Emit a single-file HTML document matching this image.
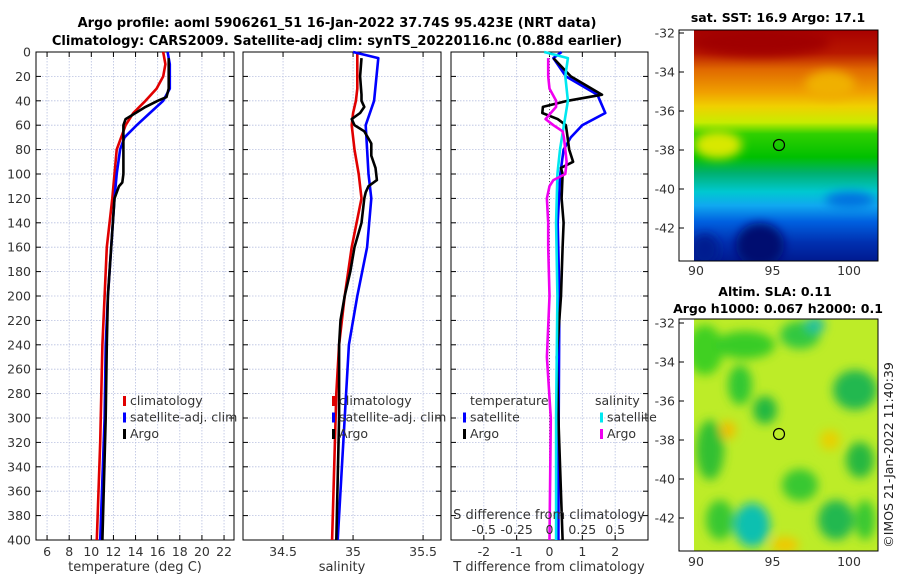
<!DOCTYPE html>
<html><head><meta charset="utf-8"><style>
body{margin:0;background:#fff;width:900px;height:580px;overflow:hidden}
svg{font-family:"DejaVu Sans","Liberation Sans",sans-serif;}
</style></head><body>
<svg id="c" width="900" height="580" xmlns="http://www.w3.org/2000/svg">
<defs>
<linearGradient id="sstg" x1="0" y1="0" x2="0" y2="1">
<stop offset="0" stop-color="#a80000"/><stop offset="0.1" stop-color="#b81800"/>
<stop offset="0.17" stop-color="#e06800"/><stop offset="0.27" stop-color="#f0a000"/>
<stop offset="0.33" stop-color="#f0d000"/><stop offset="0.4" stop-color="#c8ec00"/>
<stop offset="0.45" stop-color="#30d000"/><stop offset="0.55" stop-color="#00c000"/>
<stop offset="0.62" stop-color="#00b070"/><stop offset="0.7" stop-color="#00c8d0"/>
<stop offset="0.76" stop-color="#10a8f0"/><stop offset="0.83" stop-color="#0060e0"/>
<stop offset="0.92" stop-color="#0030b0"/><stop offset="1" stop-color="#001a90"/>
</linearGradient>
<filter id="bl"><feGaussianBlur stdDeviation="5"/></filter>
<clipPath id="cp1"><rect x="694" y="30" width="184" height="231"/></clipPath>
<clipPath id="cp2"><rect x="694" y="319" width="184" height="232"/></clipPath>
</defs>
<g id="titles">
<text x="337" y="27" text-anchor="middle" font-weight="bold" font-size="13">Argo profile: aoml 5906261_51 16-Jan-2022 37.74S 95.423E (NRT data)</text>
<text x="337" y="45" text-anchor="middle" font-weight="bold" font-size="13">Climatology: CARS2009. Satellite-adj clim: synTS_20220116.nc (0.88d earlier)</text>
</g>
<g id="panels"></g>
<g id="maps">
<g>
<text x="778" y="22" text-anchor="middle" font-weight="bold" font-size="12.5">sat. SST: 16.9 Argo: 17.1</text>
<g clip-path="url(#cp1)">
<rect x="694" y="30" width="184" height="231" fill="url(#sstg)"/>
<g filter="url(#bl)">
<ellipse cx="760" cy="42" rx="70" ry="14" fill="#a00000"/>
<ellipse cx="718" cy="145" rx="24" ry="14" fill="#d8e800"/>
<ellipse cx="760" cy="245" rx="24" ry="22" fill="#001070"/>
<ellipse cx="705" cy="250" rx="14" ry="16" fill="#001a90"/>
<ellipse cx="830" cy="85" rx="25" ry="14" fill="#f0b000"/>
<ellipse cx="850" cy="200" rx="25" ry="8" fill="#0070e0"/>
</g>
</g>
<rect x="679" y="30" width="199" height="231" fill="none" stroke="#000" stroke-width="1"/>
<circle cx="779" cy="145" r="5.5" fill="none" stroke="#000" stroke-width="1.2"/>
</g>
<g>
<text x="775" y="296" text-anchor="middle" font-weight="bold" font-size="12.5">Altim. SLA: 0.11</text>
<text x="778" y="313" text-anchor="middle" font-weight="bold" font-size="12.5">Argo h1000: 0.067 h2000: 0.1</text>
<g clip-path="url(#cp2)">
<rect x="694" y="319" width="184" height="232" fill="#bdec28"/>
<g filter="url(#bl)">
<ellipse cx="705" cy="350" rx="18" ry="25" fill="#40d020"/>
<ellipse cx="745" cy="345" rx="30" ry="14" fill="#38cc28"/>
<ellipse cx="800" cy="335" rx="20" ry="14" fill="#30c840"/>
<ellipse cx="815" cy="325" rx="10" ry="8" fill="#20c0a0"/>
<ellipse cx="740" cy="385" rx="12" ry="20" fill="#30c830"/>
<ellipse cx="765" cy="410" rx="12" ry="14" fill="#20b840"/>
<ellipse cx="855" cy="390" rx="22" ry="20" fill="#20b850"/>
<ellipse cx="710" cy="450" rx="14" ry="30" fill="#30c030"/>
<ellipse cx="860" cy="460" rx="14" ry="18" fill="#28b840"/>
<ellipse cx="800" cy="485" rx="18" ry="16" fill="#38c830"/>
<ellipse cx="752" cy="525" rx="18" ry="22" fill="#10c0b0"/>
<ellipse cx="836" cy="520" rx="18" ry="20" fill="#20b850"/>
<ellipse cx="720" cy="520" rx="14" ry="20" fill="#38c830"/>
<ellipse cx="865" cy="520" rx="10" ry="20" fill="#38c830"/>
<ellipse cx="728" cy="430" rx="8" ry="9" fill="#f0c000"/>
<ellipse cx="830" cy="440" rx="10" ry="10" fill="#e8d000"/>
<ellipse cx="785" cy="545" rx="14" ry="8" fill="#f0c800"/>
</g>
</g>
<rect x="679" y="319" width="199" height="232" fill="none" stroke="#000" stroke-width="1"/>
<circle cx="779" cy="434" r="5.5" fill="none" stroke="#000" stroke-width="1.2"/>
</g>
<text transform="translate(893,455) rotate(-90)" text-anchor="middle" font-size="12.5" fill="#222">©IMOS 21-Jan-2022 11:40:39</text>
</g>
</svg>
<script>
// depth-profile data
const depthsClim=[0,10,20,30,40,50,60,80,100,120,160,200,240,280,320,400];
const tClim=[16.5,16.7,16.5,15.9,14.9,13.8,13.1,12.3,12.1,11.9,11.4,11.2,11.0,10.9,10.8,10.5];
const depthsSat=[0,10,30,40,50,60,70,80,100,120,160,200,240,300,400];
const tSat=[16.9,17.1,17.1,16.5,15.3,14.1,13.0,12.6,12.3,12.1,11.8,11.5,11.3,11.2,10.8];
const depthsArgo=[5,30,37,40,45,50,55,60,80,100,107,110,120,160,200,240,300,400];
const tArgo=[17.0,17.0,16.8,16.0,14.9,14.0,13.1,12.9,12.9,12.9,12.8,12.5,12.1,11.8,11.5,11.4,11.3,11.0];
const sClim=[35.03,35.03,35.03,35.03,35.02,35.0,34.99,35.01,35.04,35.06,34.99,34.94,34.90,34.88,34.87,34.85];
const depthsSSat=[0,5,40,60,80,100,120,160,200,240,300,400];
const sSat=[35.0,35.18,35.15,35.09,35.10,35.11,35.13,35.10,35.03,34.97,34.94,34.89];
const depthsSArgo=[5,20,35,40,45,50,55,60,65,75,85,95,105,110,115,120,140,160,180,200,220,240,280,300,400];
const sArgo=[35.06,35.05,35.06,35.06,35.08,35.05,34.99,35.01,35.08,35.13,35.13,35.16,35.17,35.11,35.09,35.08,35.06,35.01,34.98,34.94,34.91,34.90,34.90,34.90,34.88];
const depthsDT=[0,5,20,35,50,60,70,80,100,140,200,300,400];
const dTSat=[0.37,0.12,0.5,1.46,1.7,1.0,0.65,0.43,0.33,0.25,0.3,0.28,0.27];
const depthsDTA=[5,20,35,40,45,50,55,60,70,80,90,95,100,120,140,160,200,250,300,400];
const dTArgo=[0.12,0.65,1.6,0.55,-0.2,-0.22,0.25,0.5,0.55,0.6,0.72,0.35,0.4,0.37,0.43,0.4,0.35,0.22,0.27,0.4];
const depthsDS=[0,5,20,40,60,80,100,140,200,300,400];
const dSSat=[-0.04,0.14,0.12,0.14,0.11,0.08,0.06,0.05,0.06,0.05,0.05];
const depthsDSA=[5,20,30,40,45,50,55,60,65,70,80,90,100,105,110,120,140,160,200,250,300,400];
const dSArgo=[-0.01,-0.01,0,0.05,0.05,0.01,-0.03,0.03,0.1,0.11,0.12,0.13,0.12,0.03,0,-0.02,-0.01,-0.01,0,-0.02,0.01,0];
const depthTicks=[0,20,40,60,80,100,120,140,160,180,200,220,240,260,280,300,320,340,360,380,400];
const tTicks=[6,8,10,12,14,16,18,20,22];
const sTicks=[34.5,35,35.5];
const dTTicks=[-2,-1,0,1,2];
const dSTicks=[-0.5,-0.25,0,0.25,0.5];
const latTicks=[-32,-34,-36,-38,-40,-42];
const lonTicks=[90,95,100];

const NS='http://www.w3.org/2000/svg';
const G=document.getElementById('panels');
function mk(tag,at,parent){const e=document.createElementNS(NS,tag);for(const k in at)e.setAttribute(k,at[k]);(parent||G).appendChild(e);return e;}
const Y0=52,Y1=540;
const yS=d=>Y0+(d/400)*(Y1-Y0);
function lin(d0,d1,r0,r1){return v=>r0+(v-d0)/(d1-d0)*(r1-r0);}
const panels=[
 {name:'temperature-panel',x0:36,x1:234,dom:[5.0,22.9]},
 {name:'salinity-panel',x0:243,x1:441,dom:[34.214,35.628]},
 {name:'difference-panel',x0:451,x1:648,dom:[-3,3]}
];
panels.forEach(p=>{p.sx=lin(p.dom[0],p.dom[1],p.x0,p.x1);});
const xT=panels[0].sx,xS=panels[1].sx,xD=panels[2].sx,xDS=lin(-0.75,0.75,451,648);

function grid(p,ticks,sx){
 const g=mk('g',{});
 
 
 depthTicks.forEach(d=>{mk('line',{x1:p.x0,x2:p.x1,y1:yS(d),y2:yS(d),stroke:'#b8c0e0','stroke-width':0.8,'stroke-dasharray':'1.5,1.5'},g);
  mk('line',{x1:p.x0,x2:p.x0+5,y1:yS(d),y2:yS(d),stroke:'#000'},g);mk('line',{x1:p.x1,x2:p.x1-5,y1:yS(d),y2:yS(d),stroke:'#000'},g);});
 ticks.forEach(t=>{const x=sx(t);mk('line',{x1:x,x2:x,y1:Y0,y2:Y1,stroke:'#b8c0e0','stroke-width':0.8,'stroke-dasharray':'1.5,1.5'},g);
  mk('line',{x1:x,x2:x,y1:Y1,y2:Y1-5,stroke:'#000'},g);mk('line',{x1:x,x2:x,y1:Y0,y2:Y0+5,stroke:'#000'},g);
  const tx=mk('text',{x:x,y:556,'text-anchor':'middle','font-size':12.5,fill:'#333'},g);tx.textContent=t;
  
  });
 mk('rect',{x:p.x0,y:Y0,width:p.x1-p.x0,height:Y1-Y0,fill:'none',stroke:'#000','stroke-width':1},g);
 return g;
}
grid(panels[0],tTicks,xT);grid(panels[1],sTicks,xS);
const gd=grid(panels[2],dTTicks,xD);
mk('line',{x1:xD(0),x2:xD(0),y1:Y0,y2:Y1,stroke:'#555','stroke-width':1,'stroke-dasharray':'1,2'},gd);
depthTicks.forEach(d=>{const t=mk('text',{x:31,y:yS(d)+4.5,'text-anchor':'end','font-size':12.5,fill:'#333'});t.textContent=d;
 
 });
function line(xs,ys,sx,color,name,w){
 const pts=xs.map((d,i)=>sx(ys[i]).toFixed(1)+','+yS(d).toFixed(1)).join(' ');
 const e=mk('polyline',{points:pts,fill:'none',stroke:color,'stroke-width':w||2.6,'stroke-linejoin':'round'});
 
 
}
line(depthsClim,tClim,xT,'#e00000','temp-climatology-line');
line(depthsSat,tSat,xT,'#0000ff','temp-satellite-line');
line(depthsArgo,tArgo,xT,'#000','temp-argo-line');
line(depthsClim,sClim,xS,'#e00000','sal-climatology-line');
line(depthsSSat,sSat,xS,'#0000ff','sal-satellite-line');
line(depthsSArgo,sArgo,xS,'#000','sal-argo-line');
line(depthsDT,dTSat,xD,'#0000ff','tdiff-satellite-line');
line(depthsDTA,dTArgo,xD,'#000','tdiff-argo-line');
line(depthsDS,dSSat,xDS,'#00e8f0','sdiff-satellite-line');
line(depthsDSA,dSArgo,xDS,'#f000f0','sdiff-argo-line');
function txt(x,y,s,name,anchor,size){const t=mk('text',{x:x,y:y,'font-size':size||12.5,fill:'#333','text-anchor':anchor||'start'});t.textContent=s;
 
 return t;}
txt(135,571,'temperature (deg C)','x-axis-title-temperature','middle',13);
txt(342,571,'salinity','x-axis-title-salinity','middle',13);
txt(549,571,'T difference from climatology','x-axis-title-tdiff','middle',13);
txt(549,519,'S difference from climatology','sdiff-axis-title','middle',13);
dSTicks.forEach(v=>{txt(xDS(v),534,String(v),'sdiff-tick-label','middle');});
function leg(x,y,color,label,name){const r=mk('rect',{x:x,y:y-9,width:3,height:10,fill:color});
 
 
 txt(x+7,y,label,name,'start',12.5);}
[['#e00000','climatology'],['#0000ff','satellite-adj. clim'],['#000','Argo']].forEach((a,i)=>leg(123,405+i*16.5,a[0],a[1],'legend-temp-'+i));
[['#e00000','climatology'],['#0000ff','satellite-adj. clim'],['#000','Argo']].forEach((a,i)=>leg(332,405+i*16.5,a[0],a[1],'legend-sal-'+i));
txt(470,405,'temperature','legend-diff-temp-header');
txt(595,405,'salinity','legend-diff-sal-header');
leg(463,421.5,'#0000ff','satellite','legend-diff-tsat');leg(463,438,'#000','Argo','legend-diff-targo');
leg(600,421.5,'#00e8f0','satellite','legend-diff-ssat');leg(600,438,'#f000f0','Argo','legend-diff-sargo');
// map axes
const latY1=lin(-32,-42,33,228),latY2=lin(-32,-42,323,518),lonX=lin(90,100,696,849);
[[latY1,30,261,275],[latY2,319,551,566]].forEach(([ly,top,bot,lab])=>{
 latTicks.forEach(l=>{const y=ly(l);mk('line',{x1:679,x2:684,y1:y,y2:y,stroke:'#000'});mk('line',{x1:878,x2:873,y1:y,y2:y,stroke:'#000'});
  txt(675,y+4.5,l,'map-lat-tick','end');});
 lonTicks.forEach(l=>{const x=lonX(l);mk('line',{x1:x,x2:x,y1:bot,y2:bot-5,stroke:'#000'});mk('line',{x1:x,x2:x,y1:top,y2:top+5,stroke:'#000'});
  txt(x,lab,l,'map-lon-tick','middle');});
});
</script>
</body></html>
